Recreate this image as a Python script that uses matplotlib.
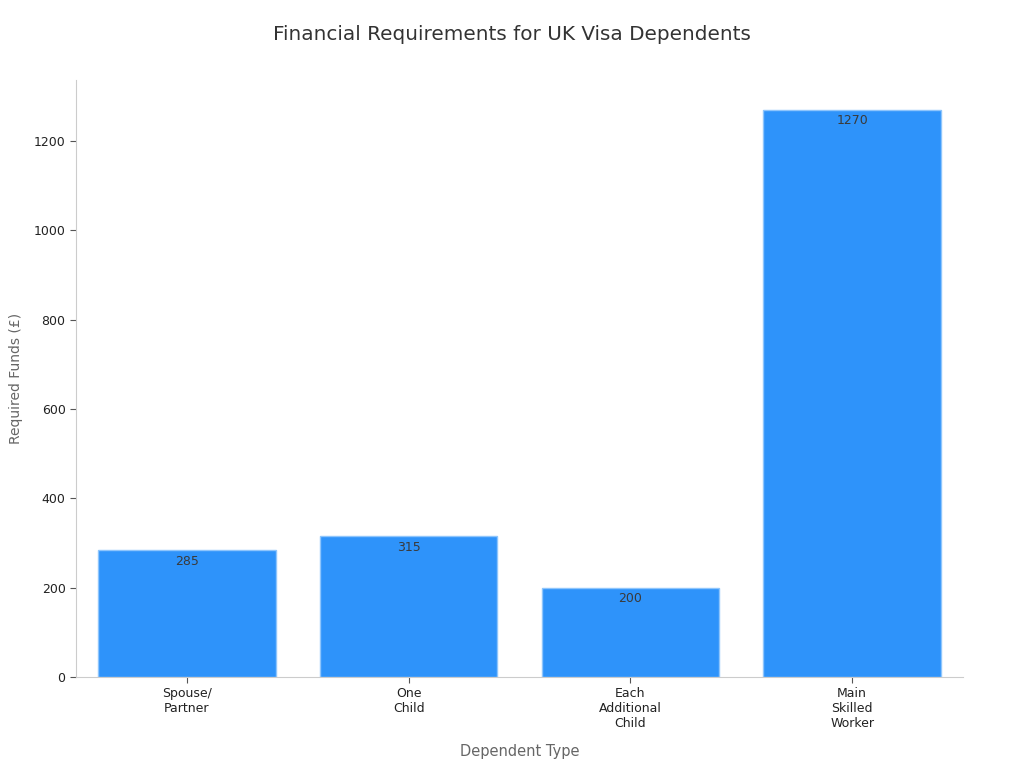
import matplotlib
matplotlib.use('Agg')
import matplotlib.pyplot as plt

categories = ['Spouse/\nPartner', 'One\nChild', 'Each\nAdditional\nChild', 'Main\nSkilled\nWorker']
funds = [285, 315, 200, 1270]
y_ticks = [0, 200, 400, 600, 800, 1000, 1200]

plt.rcParams['font.family'] = ['DejaVu Sans']

fig = plt.figure(figsize=(10.24, 7.68), dpi=100)
ax = fig.add_axes([0.0742, 0.1185, 0.8662, 0.7773])

x = list(range(len(categories)))
bars = ax.bar(x, funds, width=0.8, color='#2E93FA', edgecolor='#8EC5FC', linewidth=1)

for b, v in zip(bars, funds):
    ax.annotate(str(v), (b.get_x() + b.get_width() / 2, v), xytext=(0, -3.5),
                textcoords='offset points', ha='center', va='top',
                fontsize=9, color='#3a3a3a')

ax.set_xlim(-0.5, 3.5)
ax.set_ylim(0, max(funds) * 1.052)
ax.set_xticks(x)
ax.set_xticklabels(categories, fontsize=9, color='#222222')
ax.set_yticks(y_ticks)
ax.set_yticklabels([str(t) for t in y_ticks], fontsize=9, color='#222222')
ax.tick_params(axis='both', colors='#555555', length=4, labelcolor='#222222')

for s in ['top', 'right']:
    ax.spines[s].set_visible(False)
for s in ['left', 'bottom']:
    ax.spines[s].set_color('#cccccc')

ax.set_xlabel('Dependent Type', fontsize=10.5, color='#666666', labelpad=10)
ax.set_ylabel('Required Funds (£)', fontsize=10, color='#666666', labelpad=8)
fig.suptitle('Financial Requirements for UK Visa Dependents', fontsize=14.4, color='#333333', y=0.968)

fig.savefig('out.png', dpi=100)
